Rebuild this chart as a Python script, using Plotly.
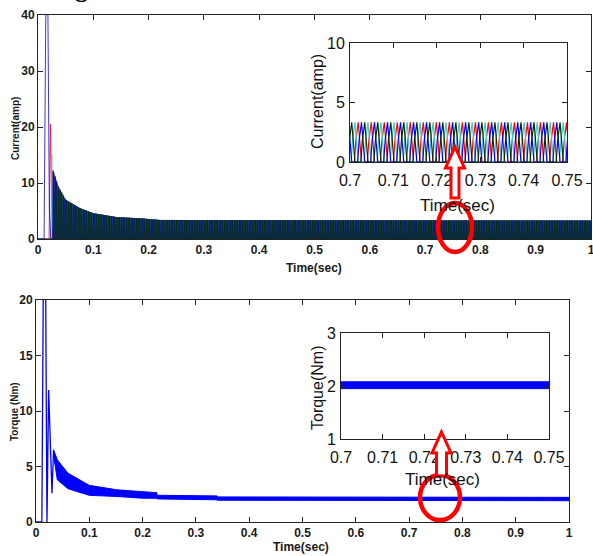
import numpy as np
import plotly.graph_objects as go

W, H = 593, 556

# ---------------- data ----------------
# phase currents: one steady-state pulse (relative shape over one period)
pulse_period = 0.003
pulse_frac = [0.0, 0.12, 0.30, 0.42, 0.55, 1.0]
pulse_rel = [0.0, 0.55, 1.0, 0.45, 0.0, 0.0]

phase_names = ["Phase C", "Phase A", "Phase B", "Phase D"]
phase_colors = ["#ff0000", "#3cc8c8", "#0000ff", "#062e06"]
phase_offset = [0.0, 0.75, 0.25, 0.5]

# peak-current envelope after start-up (time s, current A)
env_t = [0.026, 0.030, 0.036, 0.050, 0.076, 0.100, 0.143, 0.184, 0.220, 1.000]
env_a = [12.5, 11.5, 9.5, 7.0, 5.5, 4.6, 3.9, 3.7, 3.4, 3.3]

# start-up transients (time s, current A)
start_t = {
    "Phase A": [0.0, 0.023, 0.0250, 0.0265],
    "Phase B": [0.0, 0.011, 0.0145, 0.0175, 0.0205, 0.0230],
    "Phase C": [0.0, 0.020, 0.0225, 0.0245],
    "Phase D": [0.0, 0.024],
}
start_i = {
    "Phase A": [0.0, 0.0, 15.0, 2.0],
    "Phase B": [0.0, 0.0, 46.0, 46.0, 5.7, 0.0],
    "Phase C": [0.0, 0.0, 20.5, 6.0],
    "Phase D": [0.0, 0.0],
}
pulse_start = 0.026
t_end = 1.0

# torque: start-up line (time s, torque Nm)
tq_t = [0.0, 0.011, 0.0143, 0.0175, 0.0206, 0.0237, 0.030, 0.033]
tq_v = [0.0, 0.0, 26.0, 26.0, 0.0, 11.9, 2.6, 6.5]
# torque ripple band
band_t = [0.033, 0.040, 0.060, 0.100, 0.152, 0.200, 0.227, 0.227, 0.340, 0.340, 1.000]
band_hi = [6.5, 5.6, 4.4, 3.3, 2.9, 2.7, 2.64, 2.41, 2.35, 2.26, 2.22]
band_lo = [6.0, 3.8, 3.0, 2.4, 2.3, 2.14, 2.14, 2.08, 2.0, 1.96, 1.92]
# zoomed torque band
zoom_t = [0.70, 0.75]
zoom_hi = [2.08, 2.08]
zoom_lo = [1.95, 1.95]

main_xticks = [0, 0.1, 0.2, 0.3, 0.4, 0.5, 0.6, 0.7, 0.8, 0.9, 1.0]
main_xtext = ["0", "0.1", "0.2", "0.3", "0.4", "0.5", "0.6", "0.7", "0.8", "0.9", "1"]
cur_yticks = [0, 10, 20, 30, 40]
tq_yticks = [0, 5, 10, 15, 20]
zoom_xticks = [0.70, 0.71, 0.72, 0.73, 0.74, 0.75]
zoom_xtext = ["0.7", "0.71", "0.72", "0.73", "0.74", "0.75"]
zcur_yticks = [0, 5, 10]
ztq_yticks = [1, 2, 3]


# ---------------- helpers ----------------
def px(x):
    return x / W


def py(y):
    return 1 - y / H


def phase_series(name, off):
    ts = list(start_t[name])
    vs = list(start_i[name])
    t0 = pulse_start + off * pulse_period
    n_p = int((t_end - t0) / pulse_period) + 1
    base = t0 + pulse_period * np.arange(n_p)
    peak = np.interp(base + 0.3 * pulse_period, env_t, env_a)
    tt = (base[:, None] + pulse_period * np.array(pulse_frac)[None, :]).ravel()
    vv = (peak[:, None] * np.array(pulse_rel)[None, :]).ravel()
    ts += list(tt)
    vs += list(vv)
    return ts, vs


fig = go.Figure()

for name, col, off in zip(phase_names, phase_colors, phase_offset):
    ts, vs = phase_series(name, off)
    fig.add_trace(go.Scatter(x=ts, y=vs, mode="lines", line=dict(color=col, width=0.8),
                             name=name, xaxis="x", yaxis="y", showlegend=False))
    fig.add_trace(go.Scatter(x=ts, y=vs, mode="lines", line=dict(color=col, width=1.2),
                             name=name, xaxis="x3", yaxis="y3", showlegend=False))

# torque
fig.add_trace(go.Scatter(x=tq_t, y=tq_v, mode="lines", line=dict(color="#0000ff", width=1.3),
                         xaxis="x2", yaxis="y2", showlegend=False))
fig.add_trace(go.Scatter(x=band_t, y=band_hi, mode="lines", line=dict(color="#0000ff", width=1),
                         xaxis="x2", yaxis="y2", showlegend=False))
fig.add_trace(go.Scatter(x=band_t, y=band_lo, mode="lines", line=dict(color="#0000ff", width=1),
                         fill="tonexty", fillcolor="#0000ff",
                         xaxis="x2", yaxis="y2", showlegend=False))
fig.add_trace(go.Scatter(x=zoom_t, y=zoom_hi, mode="lines", line=dict(color="#0000ff", width=1),
                         xaxis="x4", yaxis="y4", showlegend=False))
fig.add_trace(go.Scatter(x=zoom_t, y=zoom_lo, mode="lines", line=dict(color="#0000ff", width=1),
                         fill="tonexty", fillcolor="#0000ff",
                         xaxis="x4", yaxis="y4", showlegend=False))

main_font = dict(family="Liberation Sans Narrow, Arial Narrow, sans-serif", size=12, color="#1a1a1a")
zoom_font = dict(family="Liberation Sans Narrow, Arial Narrow, sans-serif", size=16, color="#111")

common = dict(showline=True, linecolor="#222", linewidth=1, mirror="ticks", ticks="inside",
              ticklen=5, tickcolor="#222", showgrid=False, zeroline=False, automargin=False)

fig.update_layout(
    width=W, height=H, margin=dict(l=0, r=0, t=0, b=0),
    paper_bgcolor="white", plot_bgcolor="rgba(0,0,0,0)",
    xaxis=dict(domain=[px(38), px(591)], range=[0, 1], anchor="y",
               tickvals=main_xticks, ticktext=main_xtext, ticklabeloverflow="allow",
               tickfont=dict(main_font, weight="bold"), **common),
    yaxis=dict(domain=[py(239), py(15)], range=[0, 40], anchor="x",
               tickvals=cur_yticks, tickfont=dict(main_font, weight="bold"), **common),
    xaxis2=dict(domain=[px(36), px(569)], range=[0, 1], anchor="y2",
                tickvals=main_xticks, ticktext=main_xtext,
                tickfont=dict(main_font, weight="bold"), **common),
    yaxis2=dict(domain=[py(522), py(300)], range=[0, 20], anchor="x2",
                tickvals=tq_yticks, tickfont=dict(main_font, weight="bold"), **common),
    xaxis3=dict(domain=[px(350), px(567)], range=[0.70, 0.75], anchor="y3",
                tickvals=zoom_xticks, ticktext=zoom_xtext, tickfont=zoom_font,
                ticklabelstandoff=4, **common),
    yaxis3=dict(domain=[py(162), py(43)], range=[0, 10], anchor="x3",
                tickvals=zcur_yticks, tickfont=zoom_font, ticklabelstandoff=1, **common),
    xaxis4=dict(domain=[px(341), px(549)], range=[0.70, 0.75], anchor="y4",
                tickvals=zoom_xticks, ticktext=zoom_xtext, tickfont=zoom_font,
                ticklabelstandoff=4, **common),
    yaxis4=dict(domain=[py(439), py(333)], range=[1, 3], anchor="x4",
                tickvals=ztq_yticks, tickfont=zoom_font, ticklabelstandoff=1, **common),
)

ann = []
bold_small = dict(family="Liberation Sans, Arial, sans-serif", size=10, color="#1a1a1a", weight="bold")
narrow_bold = dict(family="Liberation Sans Narrow, Arial Narrow, sans-serif", size=12, color="#1a1a1a", weight="bold")
reg = dict(family="Liberation Sans, Arial, sans-serif", size=16, color="#111")
reg_n = dict(family="Liberation Sans Narrow, Arial Narrow, sans-serif", size=17, color="#111")

ann.append(dict(x=px(15), y=py(129), text="Current(amp)", textangle=-90, font=bold_small))
ann.append(dict(x=px(314), y=py(268), text="Time(sec)", font=narrow_bold))
ann.append(dict(x=px(15), y=py(412), text="Torque (Nm)", textangle=-90, font=bold_small))
ann.append(dict(x=px(301), y=py(547), text="Time(sec)", font=narrow_bold))
ann.append(dict(x=px(318), y=py(102), text="Current(amp)", textangle=-90, font=reg))
ann.append(dict(x=px(457), y=py(206), text="Time(sec)", font=reg_n))
ann.append(dict(x=px(317), y=py(388), text="Torque(Nm)", textangle=-90, font=reg))
ann.append(dict(x=px(442), y=py(479), text="Time(sec)", font=reg_n))
for a in ann:
    a.update(xref="paper", yref="paper", showarrow=False, xanchor="center", yanchor="middle")
# fragment of the figure caption cut off at the top edge
ann.append(dict(xref="paper", yref="paper", showarrow=False, x=px(81), y=py(5),
                xanchor="center", yanchor="bottom", text="g",
                font=dict(family="Liberation Serif, serif", size=26, color="#111", weight="bold")))
fig.update_layout(annotations=ann)


def arrow_path(tip_x, tip_y, head_w, head_base, shaft_w, shaft_bot):
    pts = [(tip_x, tip_y), (tip_x + head_w / 2, head_base), (tip_x + shaft_w / 2, head_base),
           (tip_x + shaft_w / 2, shaft_bot), (tip_x - shaft_w / 2, shaft_bot),
           (tip_x - shaft_w / 2, head_base), (tip_x - head_w / 2, head_base)]
    return "M " + " L ".join(f"{px(a):.5f},{py(b):.5f}" for a, b in pts) + " Z"


shapes = [
    dict(type="circle", xref="paper", yref="paper", x0=px(438), x1=px(472), y0=py(252), y1=py(203),
         line=dict(color="#ff0000", width=4.5)),
    dict(type="circle", xref="paper", yref="paper", x0=px(420), x1=px(460), y0=py(520), y1=py(475),
         line=dict(color="#ff0000", width=4.5)),
    dict(type="path", xref="paper", yref="paper", path=arrow_path(455, 147, 19, 168, 8, 198),
         line=dict(color="#ff0000", width=3), fillcolor="white"),
    dict(type="path", xref="paper", yref="paper", path=arrow_path(441.5, 432, 19, 453, 10, 476),
         line=dict(color="#ff0000", width=3), fillcolor="white"),
]
fig.update_layout(shapes=shapes)

fig.write_html("out.html", config={"displayModeBar": False},
               post_script="document.body.style.margin='0';document.body.style.overflow='hidden';")
